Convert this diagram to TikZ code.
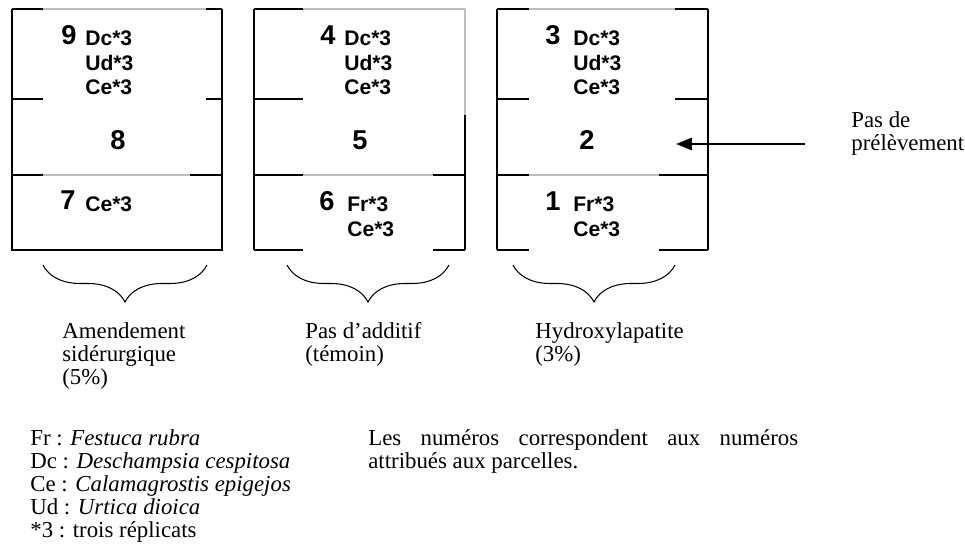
\documentclass[tikz,border=0pt]{standalone}
\usepackage{fontspec}
\setmainfont{Liberation Serif}
\setsansfont{Liberation Sans}
\usepackage{tikz}
\usetikzlibrary{arrows.meta, positioning, decorations.pathreplacing}

\definecolor{plotgray}{RGB}{190, 190, 190}
\hyphenpenalty=10000

\tikzset{
  plotline/.style={line width=0.8pt},
  faintline/.style={plotgray, line width=0.6pt},
  plotnum/.style={font=\sffamily\bfseries\fontsize{15.5}{18}\selectfont, inner sep=0pt},
  species/.style={font=\sffamily\bfseries\fontsize{12}{14.2}\selectfont, align=left, anchor=north west, inner sep=0pt},
  plaintext/.style={font=\fontsize{13}{13.2}\selectfont, align=left, anchor=north west, inner sep=0pt},
  bracedown/.style={decorate, decoration={brace, mirror, amplitude=0.74cm}, line width=0.6pt},
}

\begin{document}
\begin{tikzpicture}[x=0.02cm, y=-0.02cm]
  \useasboundingbox (0,0) rectangle (965,544);

  % Plots 9 8 7 (amendement)
  \draw[faintline] (12,9) -- (222,9) (12,175) -- (222,175);
  \draw[plotline] (12,9) -- (12,250) -- (222,250) -- (222,9);
  \draw[plotline] (12,9) -- (43,9) (206,9) -- (222,9);
  \draw[plotline] (12,99) -- (43,99) (206,99) -- (222,99);
  \draw[plotline] (12,175) -- (43,175) (190,175) -- (222,175);
  \node[plotnum] (p9) at (69,35) {9};
  \node[species] (s9) at (85,30) {Dc*3\\Ud*3\\Ce*3};
  \node[plotnum] (p8) at (118,140) {8};
  \node[plotnum] (p7) at (68,200) {7};
  \node[species] (s7) at (85,196) {Ce*3};

  % Plots 4 5 6 (temoin)
  \draw[faintline] (254,9) -- (465,9) (254,175) -- (465,175) (465,9) -- (465,115);
  \draw[plotline] (254,9) -- (254,250);
  \draw[plotline] (465,115) -- (465,250);
  \draw[plotline] (254,9) -- (303,9);
  \draw[plotline] (254,99) -- (303,99);
  \draw[plotline] (254,175) -- (303,175) (433,175) -- (465,175);
  \draw[plotline] (254,250) -- (303,250) (433,250) -- (465,250);
  \node[plotnum] (p4) at (328,35) {4};
  \node[species] (s4) at (344,30) {Dc*3\\Ud*3\\Ce*3};
  \node[plotnum] (p5) at (360,140) {5};
  \node[plotnum] (p6) at (327,201) {6};
  \node[species] (s6) at (347,196) {Fr*3\\Ce*3};

  % Plots 3 2 1 (hydroxylapatite)
  \draw[faintline] (497,9) -- (708,9) (497,175) -- (708,175);
  \draw[plotline] (497,9) -- (497,250) (708,9) -- (708,250);
  \draw[plotline] (497,9) -- (529,9) (675,9) -- (708,9);
  \draw[plotline] (497,99) -- (529,99) (675,99) -- (708,99);
  \draw[plotline] (497,175) -- (529,175) (659,175) -- (708,175);
  \draw[plotline] (497,250) -- (529,250) (659,250) -- (708,250);
  \node[plotnum] (p3) at (553,35) {3};
  \node[species] (s3) at (573,30) {Dc*3\\Ud*3\\Ce*3};
  \node[plotnum] (p2) at (587,140) {2};
  \node[plotnum] (p1) at (553,201) {1};
  \node[species] (s1) at (573,196) {Fr*3\\Ce*3};

  % Unsampled plot
  \node[plaintext] (nosample) at (851,111) {Pas de\\prélèvement};
  \coordinate (arrowstart) at (805,144);
  \coordinate (arrowtip) at (676,144);
  \draw[-{Triangle[length=9pt, width=7pt]}, line width=0.8pt] (arrowstart) -- (arrowtip);

  % Treatments
  \coordinate (bl1) at (43,265);  \coordinate (br1) at (207,265);
  \coordinate (bl2) at (287,265); \coordinate (br2) at (449,265);
  \coordinate (bl3) at (513,265); \coordinate (br3) at (675,265);
  \draw[bracedown] (bl1) -- (br1);
  \draw[bracedown] (bl2) -- (br2);
  \draw[bracedown] (bl3) -- (br3);
  \node[plaintext] (amend) at (62,322) {Amendement\\sidérurgique\\(5\%)};
  \node[plaintext] (temoin) at (305,322) {Pas d'additif\\(témoin)};
  \node[plaintext] (hydroxy) at (535,322) {Hydroxylapatite\\(3\%)};

  % Legend
  \node[plaintext] (legend) at (30,429) {Fr : \textit{Festuca rubra}\\
    Dc : \textit{Deschampsia cespitosa}\\
    Ce : \textit{Calamagrostis epigejos}\\
    Ud : \textit{Urtica dioica}\\
    *3 : trois réplicats};
  \node[plaintext, text width=8.6cm, align=justify] (note) at (368,429)
    {Les numéros correspondent aux numéros attribués aux parcelles.};
\end{tikzpicture}
\end{document}
